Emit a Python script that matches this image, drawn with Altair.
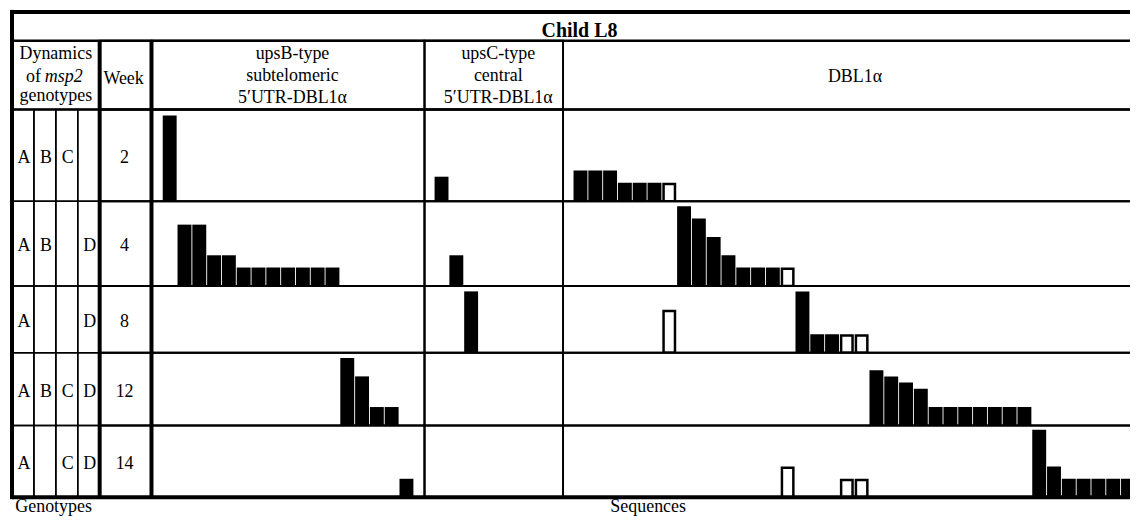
import altair as alt
import pandas as pd

FONT = "Liberation Serif"
FS = 18
STEP = 14.85   # px per sequence slot
UNIT = 6.15    # px per clone count

# ---------------- data ----------------
weeks = [2, 4, 8, 12, 14]
geno_letters = ["A", "B", "C", "D"]
geno_present = ["ABC", "ABD", "AD", "ABCD", "ACD"]

# upsB-type subtelomeric 5'UTR-DBL1a
upsB_week = [2, 4, 4, 4, 4, 4, 4, 4, 4, 4, 4, 4, 12, 12, 12, 12, 14]
upsB_seq = [0, 1, 2, 3, 4, 5, 6, 7, 8, 9, 10, 11, 12, 13, 14, 15, 16]
upsB_count = [14, 10, 10, 5, 5, 3, 3, 3, 3, 3, 3, 3, 11, 8, 3, 3, 3]
upsB_hollow = [0, 0, 0, 0, 0, 0, 0, 0, 0, 0, 0, 0, 0, 0, 0, 0, 0]

# upsC-type central 5'UTR-DBL1a
upsC_week = [2, 4, 8]
upsC_seq = [0, 1, 2]
upsC_count = [4, 5, 10]
upsC_hollow = [0, 0, 0]

# DBL1a
dbl_week = [2, 2, 2, 2, 2, 2, 2,
            4, 4, 4, 4, 4, 4, 4, 4,
            8, 8, 8, 8, 8, 8,
            12, 12, 12, 12, 12, 12, 12, 12, 12, 12, 12,
            14, 14, 14, 14, 14, 14, 14, 14, 14, 14]
dbl_seq = [0, 1, 2, 3, 4, 5, 6,
           7, 8, 9, 10, 11, 12, 13, 14,
           6, 15, 16, 17, 18, 19,
           20, 21, 22, 23, 24, 25, 26, 27, 28, 29, 30,
           14, 18, 19, 31, 32, 33, 34, 35, 36, 37]
dbl_count = [5, 5, 5, 3, 3, 3, 3,
             13, 11, 8, 5, 3, 3, 3, 3,
             7, 10, 3, 3, 3, 3,
             9, 8, 7, 6, 3, 3, 3, 3, 3, 3, 3,
             5, 3, 3, 11, 5, 3, 3, 3, 3, 3]
dbl_hollow = [0, 0, 0, 0, 0, 0, 1,
              0, 0, 0, 0, 0, 0, 0, 1,
              1, 0, 0, 0, 1, 1,
              0, 0, 0, 0, 0, 0, 0, 0, 0, 0, 0,
              1, 1, 1, 0, 0, 0, 0, 0, 0, 0]

panels = [("upsB", upsB_week, upsB_seq, upsB_count, upsB_hollow),
          ("upsC", upsC_week, upsC_seq, upsC_count, upsC_hollow),
          ("DBL", dbl_week, dbl_seq, dbl_count, dbl_hollow)]
records = []
for name, wk, sq, ct, ho in panels:
    for w, s, c, o in zip(wk, sq, ct, ho):
        records.append({"panel": name, "week": w, "seq": s, "count": c, "hollow": o})
bars = pd.DataFrame(records)

ONE = pd.DataFrame({"k": [0]})

# ---------------- layout ----------------
GENO_W = 22
WEEK_W = 52
PANEL_ORDER = ["upsB", "upsC", "DBL"]
PANEL_W = {"upsB": 274, "upsC": 139, "DBL": 569}   # DBL column runs off the page edge
PANEL_PAD = {"upsB": 0.76, "upsC": 0.68, "DBL": 0.71}
COL_W = [GENO_W] * 4 + [WEEK_W] + [PANEL_W[p] for p in PANEL_ORDER]
ROW_H = [92, 85, 67, 73, 72]
TITLE_H = 29
HEAD_H = 69
LABEL_H = 14
TOTAL_W = sum(COL_W)

BLANK = alt.ViewBackground(stroke="transparent", strokeWidth=0)


def txt(s, x, y, size=FS, align="center", style="normal", weight="normal"):
    return alt.Chart(ONE).mark_text(
        text=s, font=FONT, fontSize=size, align=align, baseline="alphabetic",
        fontStyle=style, fontWeight=weight, color="black"
    ).encode(x=alt.value(x), y=alt.value(y))


def vrule(x, h, cap="butt", sw=4):
    return alt.Chart(ONE).mark_rule(color="black", strokeWidth=sw, strokeCap=cap).encode(
        x=alt.value(x), y=alt.value(0), y2=alt.value(h))


def hrule(y, w, cap="butt", sw=4):
    return alt.Chart(ONE).mark_rule(color="black", strokeWidth=sw, strokeCap=cap).encode(
        y=alt.value(y), x=alt.value(0), x2=alt.value(w))


def invisible(h):
    return alt.Chart(ONE).mark_rule(strokeWidth=1, strokeOpacity=0).encode(
        x=alt.value(3), y=alt.value(2), y2=alt.value(h - 2))


def blank(w, h, layers=None):
    layers = layers or [invisible(h)]
    return alt.layer(*layers).properties(width=w, height=h, view=BLANK)


def geno_cell(letter, present, h, first):
    d = pd.DataFrame({"g": [letter if present else ""]})
    t = alt.Chart(d).mark_text(font=FONT, fontSize=FS, align="center", baseline="alphabetic",
                               color="black").encode(
        x=alt.value(12), y=alt.value(h / 2 + 7.5), text="g:N")
    layers = [t]
    if first:
        layers.append(vrule(0, h, cap="square"))
    return alt.layer(*layers).properties(
        width=GENO_W, height=h, view=alt.ViewBackground(stroke="black", strokeWidth=1.5))


def week_cell(w, h):
    d = pd.DataFrame({"week": [str(w)]})
    t = alt.Chart(d).mark_text(font=FONT, fontSize=FS, align="center", baseline="alphabetic",
                               color="black").encode(
        x=alt.value(25), y=alt.value(h / 2 + 7.5), text="week:N")
    return alt.layer(t, vrule(0, h), vrule(WEEK_W, h)).properties(width=WEEK_W, height=h)


def bar_cell(panel, week, h):
    width = PANEL_W[panel]
    pad = PANEL_PAD[panel]
    open_right = panel == "DBL"
    xs = alt.Scale(domain=[-pad, width / STEP - pad], nice=False, zero=False)
    ys = alt.Scale(domain=[0, h / UNIT], nice=False)
    base = alt.Chart(bars).transform_filter(
        f"datum.panel == '{panel}' && datum.week == {week}")
    ix = 1.25 / STEP
    iy = 1.25 / UNIT
    filled = base.transform_filter("datum.hollow == 0").transform_calculate(
        xa="datum.seq", xb="datum.seq + 0.94"
    ).mark_rect(color="black", clip=open_right).encode(
        x=alt.X("xa:Q", scale=xs, axis=None), x2="xb:Q",
        y=alt.Y("count:Q", scale=ys, axis=None), y2=alt.datum(0))
    hollow = base.transform_filter("datum.hollow == 1").transform_calculate(
        xa=f"datum.seq + {ix}", xb=f"datum.seq + 0.94 - {ix}", yt=f"datum.count - {iy}"
    ).mark_rect(fill="white", stroke="black", strokeWidth=2.5, clip=open_right).encode(
        x=alt.X("xa:Q", scale=xs, axis=None), x2="xb:Q",
        y=alt.Y("yt:Q", scale=ys, axis=None), y2=alt.datum(0))
    layers = [filled, hollow]
    if open_right:
        # the table is cut at the page edge: only top/bottom lines, no right border
        layers += [hrule(0, width, sw=2), hrule(h, width, sw=2)]
        return alt.layer(*layers).properties(width=width, height=h, view=BLANK)
    return alt.layer(*layers).properties(width=width, height=h)


cells = []

# title row (one merged cell drawn from the first grid cell)
cells.append(blank(COL_W[0], TITLE_H, [
    hrule(0, TOTAL_W),
    hrule(TITLE_H, TOTAL_W, sw=2.5),
    vrule(0, TITLE_H, cap="square"),
    txt("Child L8", 569.5, 25, size=20, weight="bold"),
]))
for wc in COL_W[1:]:
    cells.append(blank(wc, TITLE_H))

# header row
cells.append(blank(COL_W[0], HEAD_H, [
    txt("Dynamics", 44, 18.3),
    txt("of", 29, 41, align="right"),
    txt("msp2", 33, 41, align="left", style="italic"),
    txt("genotypes", 44, 60.5),
    vrule(0, HEAD_H, cap="square"),
    hrule(HEAD_H, TOTAL_W, sw=2.5),
]))
for wc in COL_W[1:4]:
    cells.append(blank(wc, HEAD_H))
cells.append(alt.layer(
    txt("Week", 24, 43), vrule(0, HEAD_H), vrule(WEEK_W, HEAD_H)
).properties(width=WEEK_W, height=HEAD_H))
cells.append(alt.layer(
    txt("upsB-type", 141.5, 18.3), txt("subtelomeric", 141.5, 40.8),
    txt("5\u2032UTR-DBL1\u03b1", 141.5, 62),
).properties(width=PANEL_W["upsB"], height=HEAD_H))
cells.append(alt.layer(
    txt("upsC-type", 74, 18.3), txt("central", 74, 40.8),
    txt("5\u2032UTR-DBL1\u03b1", 74, 62),
).properties(width=PANEL_W["upsC"], height=HEAD_H))
cells.append(blank(PANEL_W["DBL"], HEAD_H, [
    txt("DBL1\u03b1", 293, 41.3),
]))

# data rows
for i, w in enumerate(weeks):
    h = ROW_H[i]
    for j, L in enumerate(geno_letters):
        cells.append(geno_cell(L, L in geno_present[i], h, j == 0))
    cells.append(week_cell(w, h))
    for p in PANEL_ORDER:
        cells.append(bar_cell(p, w, h))

# bottom labels
cells.append(blank(COL_W[0], LABEL_H, [
    hrule(0, TOTAL_W),
    txt("Genotypes", 3.3, 14.5, align="left"),
    txt("Sequences", 600.5, 14.5, align="left"),
]))
for wc in COL_W[1:]:
    cells.append(blank(wc, LABEL_H))

chart = alt.concat(
    *cells, columns=len(COL_W), spacing=0, bounds="flush"
).properties(
    padding=0, background="white"
).configure_view(
    stroke="black", strokeWidth=2
).configure_concat(spacing=0)

chart.save("out.html", embed_options={"renderer": "svg", "actions": False})
